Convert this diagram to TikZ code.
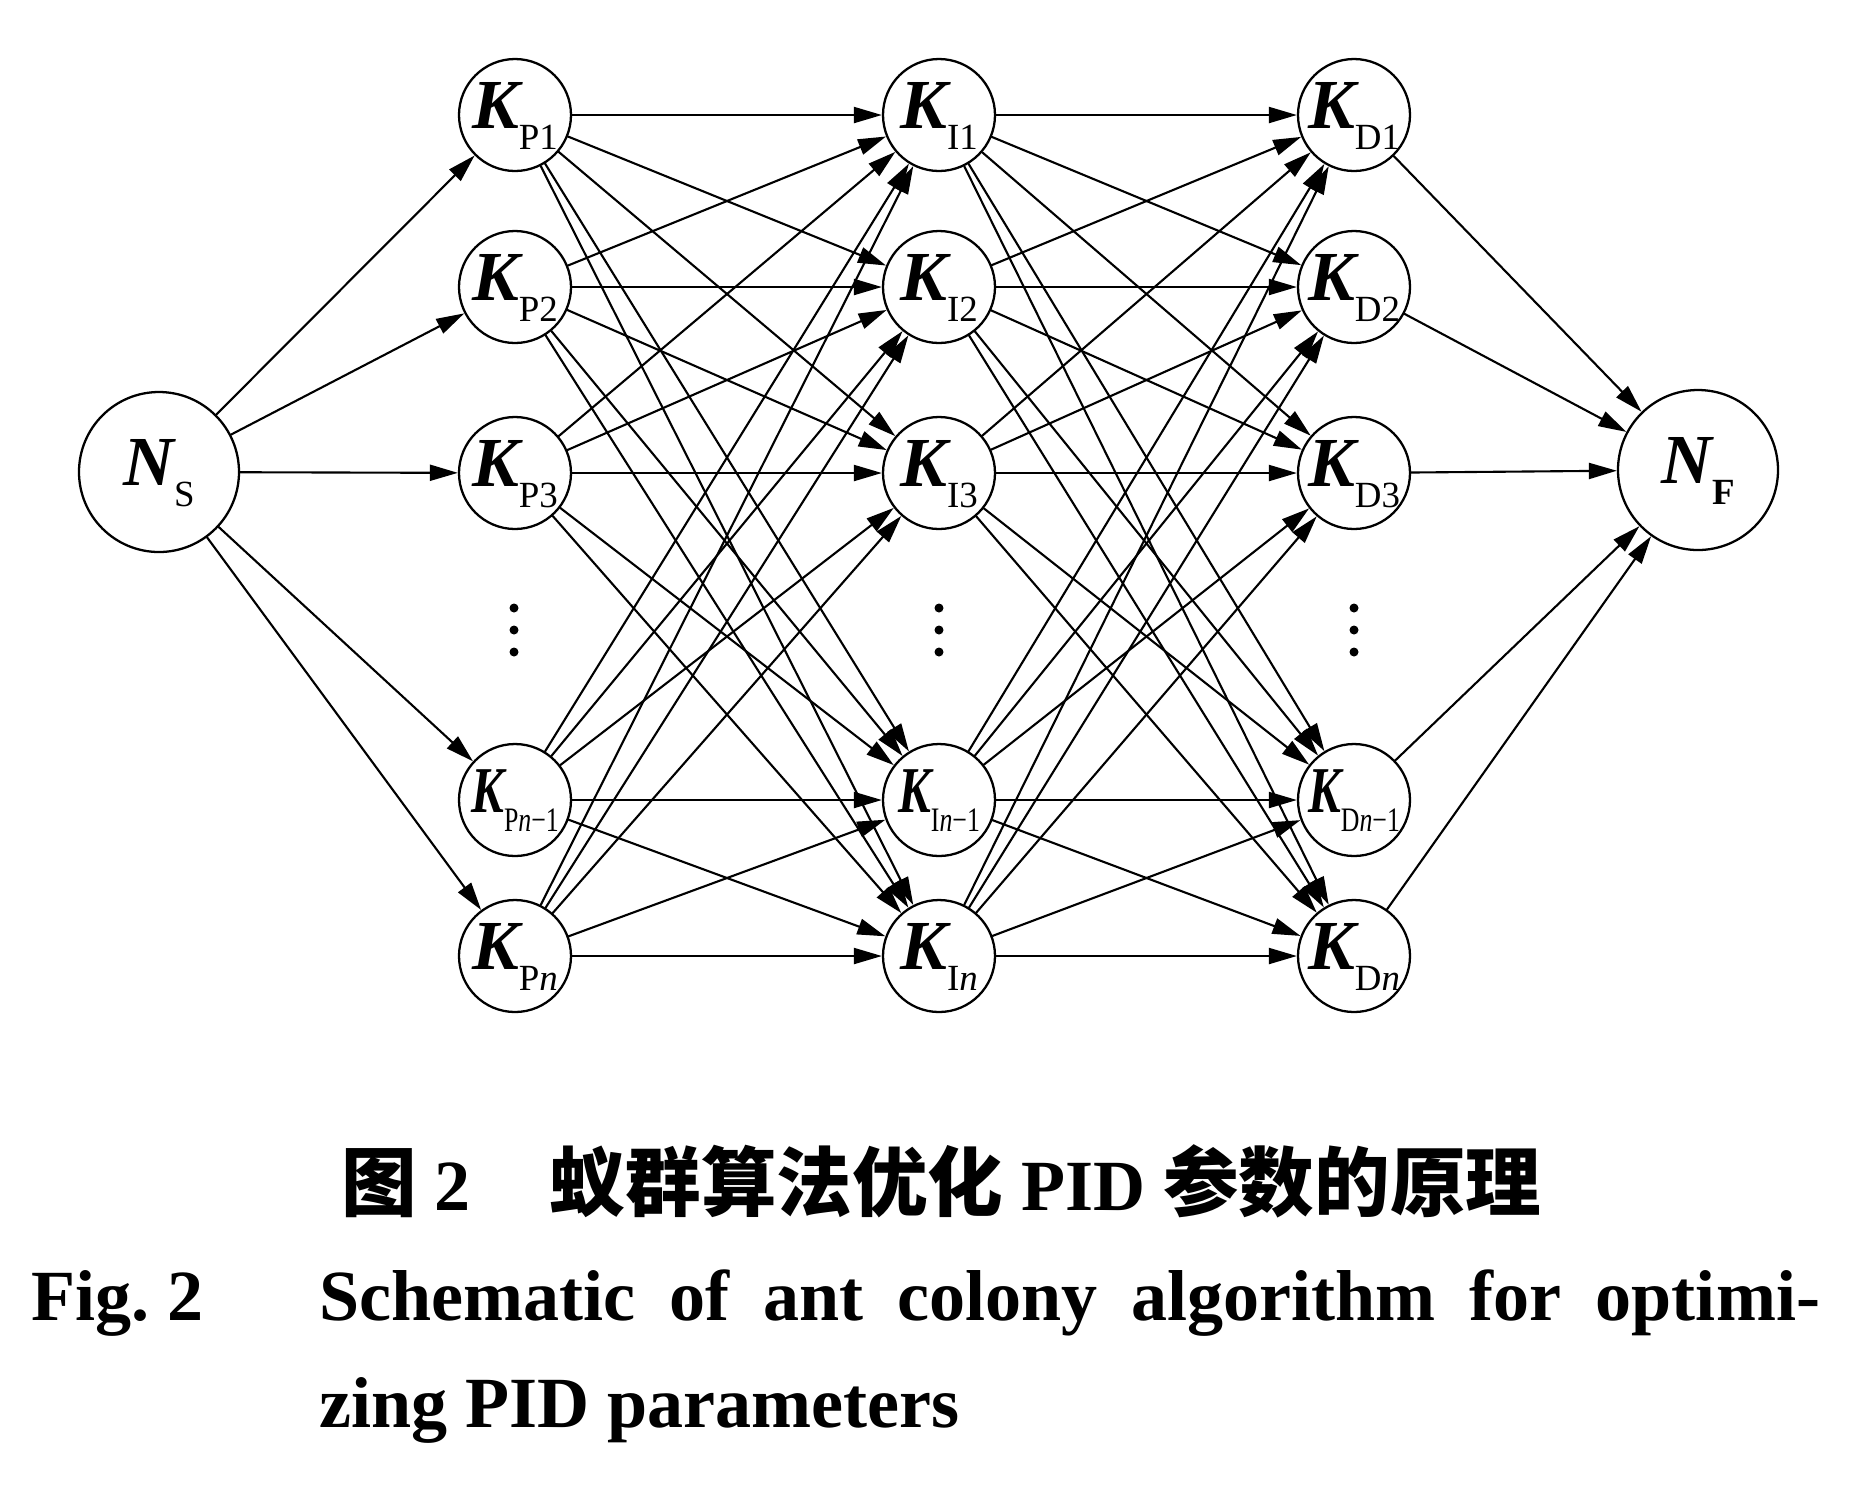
\documentclass[tikz,border=0pt]{standalone}
\usepackage{fontspec}
\setmainfont{Liberation Serif}
\newfontfamily\cjk{Noto Sans CJK SC}
\usetikzlibrary{arrows.meta}
\tikzstyle{every path}=[line width=0.6pt,line cap=round,line join=round]
\tikzstyle{knode}=[draw,circle,line width=0.65pt,minimum size=1.12cm,inner sep=0pt]
\tikzstyle{endnode}=[draw,circle,line width=0.65pt,minimum size=1.6cm,inner sep=0pt]
\tikzstyle{edge}=[-{Triangle[length=2.8mm,width=1.6mm]}]
\tikzstyle{caption}=[inner sep=0pt,anchor=base west,font=\fontsize{20.5}{24}\selectfont\bfseries]
% gain label: bold italic K with a lowered upright index, kept out of the node size
\newcommand{\Ktext}[1]{{\fontsize{20}{20}\selectfont\bfseries\itshape K}\raisebox{-6pt}{\fontsize{10.5}{10.5}\selectfont #1}}
\newcommand{\Kval}[1]{\makebox[0pt]{\smash{\raisebox{-0.13cm}{\Ktext{#1}}}}}
\newcommand{\Kvall}[1]{\makebox[0pt]{\smash{\raisebox{-0.12cm}{\scalebox{0.7}[0.93]{\Ktext{#1}}}}}}
\newcommand{\Nval}[1]{\makebox[0pt]{\smash{\raisebox{-0.13cm}{{\fontsize{20}{20}\selectfont\bfseries\itshape N}\raisebox{-6pt}{\fontsize{10.5}{10.5}\selectfont #1}}}}}

\begin{document}
\begin{tikzpicture}
  \useasboundingbox (0,0) rectangle (18.58,-14.91);
  \node[endnode] (ns) at (1.59,-4.72) {\Nval{S}};
  \node[endnode] (nf) at (16.98,-4.70) {\Nval{\bfseries F}};
  % the three gain columns
  \foreach \r/\y/\s/\lab in {1/1.15/1/\Kval,2/2.87/2/\Kval,3/4.73/3/\Kval,4/8.00/{\textit{n}−1}/\Kvall,5/9.56/{\textit{n}}/\Kval} {
    \node[knode] (kp\r) at (5.15,-\y) {\lab{P\s}};
    \node[knode] (ki\r) at (9.39,-\y) {\lab{I\s}};
    \node[knode] (kd\r) at (13.54,-\y) {\lab{D\s}};
  }
  \foreach \x in {5.14,9.39,13.54}
    \fill (\x,-6.08) circle(0.045) (\x,-6.30) circle(0.045) (\x,-6.52) circle(0.045);
  % every path between neighbouring columns
  \foreach \i in {1,...,5} {
    \draw[edge] (ns) -- (kp\i);
    \draw[edge] (kd\i) -- (nf);
    \foreach \j in {1,...,5} {
      \draw[edge] (kp\i) -- (ki\j);
      \draw[edge] (ki\i) -- (kd\j);
    }
  }
  \node[caption] (capcn) at (3.40,-12.10)
    {{\cjk\fontsize{21.5}{24}\selectfont 图}\hspace{0.25em}2\hspace{1.1em}{\cjk\fontsize{21.5}{24}\selectfont 蚁群算法优化} PID {\cjk\fontsize{21.5}{24}\selectfont 参数的原理}};
  \node[caption] (figno) at (0.30,-13.20) {Fig.\ 2};
  \node[caption] (capen1) at (3.18,-13.20) {\makebox[15.01cm][s]{Schematic of ant colony algorithm for optimi-}};
  \node[caption] (capen2) at (3.18,-14.27) {zing PID parameters};
\end{tikzpicture}
\end{document}
